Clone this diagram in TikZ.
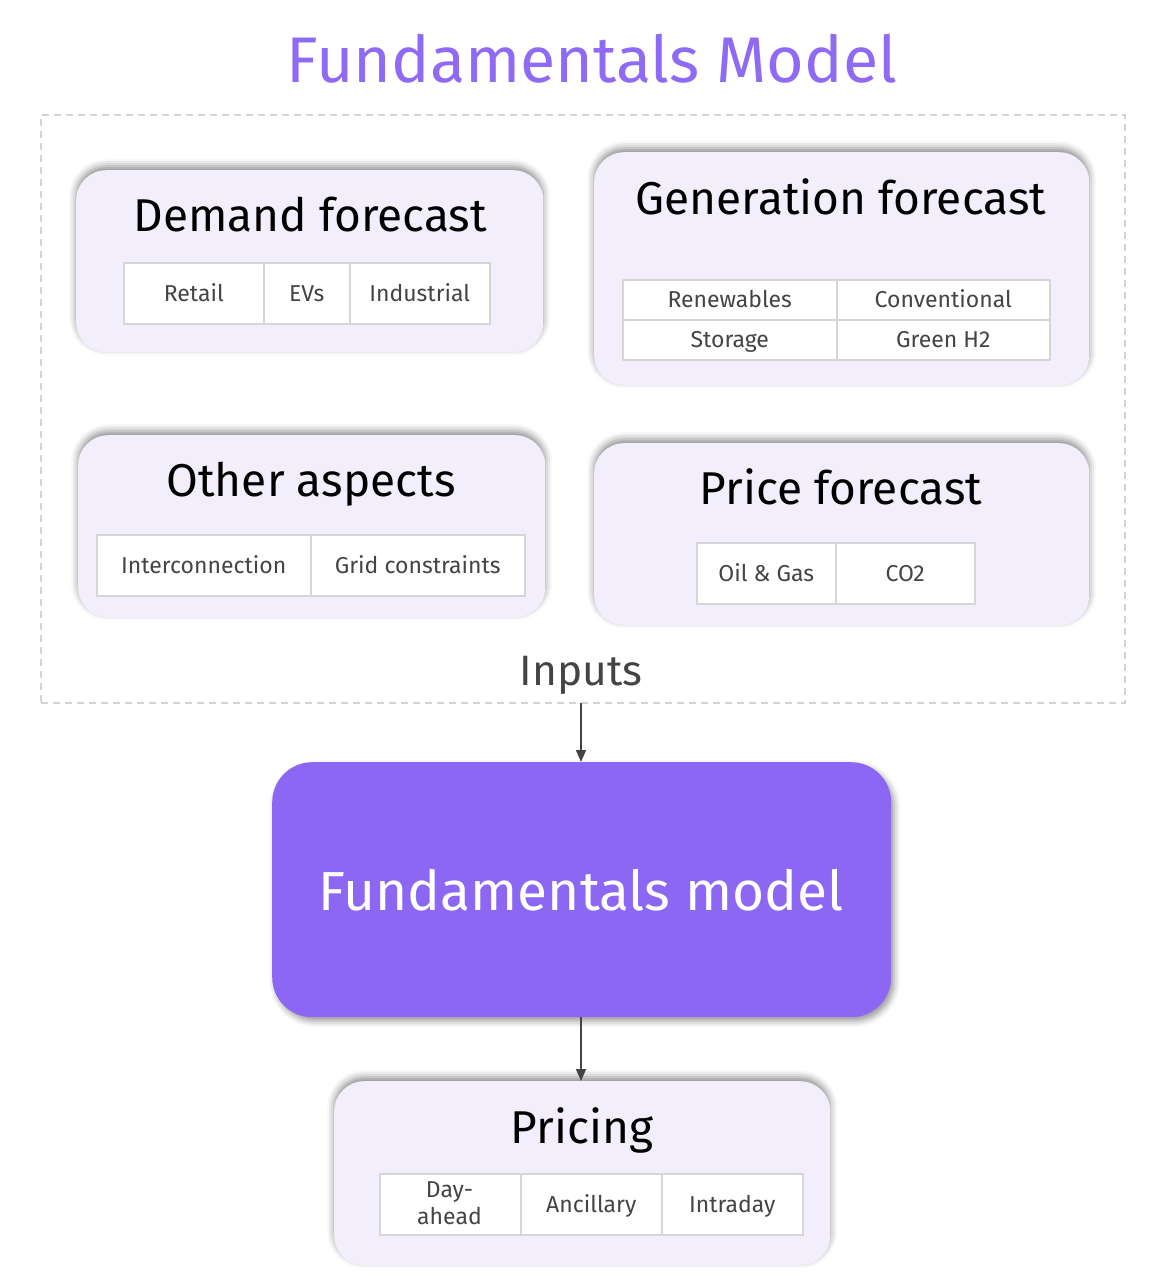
\documentclass[tikz,border=0pt]{standalone}
\usepackage{fontspec}
\setmainfont{Fira Sans}
\usetikzlibrary{shadows.blur,arrows.meta}
\definecolor{ttl}{HTML}{8F6AF5}
\definecolor{bigp}{HTML}{8B67F3}
\definecolor{lav}{HTML}{F3EEFC}
\definecolor{cellb}{HTML}{D6D6D6}
\definecolor{txtg}{HTML}{444444}
\definecolor{dashc}{HTML}{D4D4D4}
\begin{document}
\begin{tikzpicture}[x=1pt,y=-1pt,
  lavbox/.style={fill=lav, rounded corners=30pt, anchor=north west, inner sep=0pt,
     blur shadow={shadow xshift=0pt, shadow yshift=4pt, shadow blur radius=7pt, shadow opacity=45}},
  bigbox/.style={fill=bigp, rounded corners=40pt, anchor=north west, inner sep=0pt,
     blur shadow={shadow xshift=3pt, shadow yshift=-4pt, shadow blur radius=6pt, shadow opacity=40}},
  cell/.style={draw=cellb, line width=1.5pt, fill=white, anchor=north west, inner sep=0pt},
  celltext/.style={anchor=base, inner sep=0pt, text=txtg, font=\fontsize{23}{27}\selectfont, align=center},
  boxtitle/.style={anchor=base, font=\fontsize{46}{50}\selectfont, text=black, inner sep=0pt},
  arr/.style={draw=txtg, line width=1.5pt, -{Triangle[length=12pt,width=10pt]}}
]
\useasboundingbox (0,0) rectangle (1162,1282);
\node[anchor=base, text=ttl, font=\fontsize{64.5}{70}\selectfont, inner sep=0pt] (title) at (592,82) {Fundamentals Model};
\node[draw=dashc, line width=1.5pt, dash pattern=on 7pt off 5pt, anchor=north west, minimum width=1084pt, minimum height=588pt, inner sep=0pt] (inbox) at (40,114) {};

% Demand forecast
\node[lavbox, minimum width=467pt, minimum height=182pt] (dem) at (76,170) {};
\node[boxtitle] (demt) at (310,231) {Demand forecast};
\node[cell, minimum width=140pt, minimum height=61pt] (c1) at (123,262) {};
\node[cell, minimum width=86pt, minimum height=61pt] (c2) at (263,262) {};
\node[cell, minimum width=140pt, minimum height=61pt] (c3) at (349,262) {};
\node[celltext] (c1t) at ([yshift=-8pt]c1.center) {Retail};
\node[celltext] (c2t) at ([yshift=-8pt]c2.center) {EVs};
\node[celltext] (c3t) at ([yshift=-8pt]c3.center) {Industrial};

% Generation forecast
\node[lavbox, minimum width=495pt, minimum height=233pt] (gen) at (594,152) {};
\node[boxtitle] (gent) at (841,214) {Generation forecast};
\node[cell, minimum width=214pt, minimum height=40pt] (g1) at (622,279) {};
\node[cell, minimum width=213pt, minimum height=40pt] (g2) at (836,279) {};
\node[cell, minimum width=214pt, minimum height=40pt] (g3) at (622,319) {};
\node[cell, minimum width=213pt, minimum height=40pt] (g4) at (836,319) {};
\node[celltext] (g1t) at ([yshift=-8pt]g1.center) {Renewables};
\node[celltext] (g2t) at ([yshift=-8pt]g2.center) {Conventional};
\node[celltext] (g3t) at ([yshift=-8pt]g3.center) {Storage};
\node[celltext] (g4t) at ([yshift=-8pt]g4.center) {Green H2};

% Other aspects
\node[lavbox, minimum width=467pt, minimum height=182pt] (oth) at (78,435) {};
\node[boxtitle] (otht) at (311,496) {Other aspects};
\node[cell, minimum width=214pt, minimum height=61pt] (o1) at (96,534) {};
\node[cell, minimum width=214pt, minimum height=61pt] (o2) at (310,534) {};
\node[celltext] (o1t) at ([yshift=-8pt]o1.center) {Interconnection};
\node[celltext] (o2t) at ([yshift=-8pt]o2.center) {Grid constraints};

% Price forecast
\node[lavbox, minimum width=495pt, minimum height=182pt] (pri) at (594,443) {};
\node[boxtitle] (prit) at (841,504) {Price forecast};
\node[cell, minimum width=139pt, minimum height=61pt] (p1) at (696,542) {};
\node[cell, minimum width=139pt, minimum height=61pt] (p2) at (835,542) {};
\node[celltext] (p1t) at ([yshift=-8pt]p1.center) {Oil \& Gas};
\node[celltext] (p2t) at ([yshift=-8pt]p2.center) {CO2};

% Inputs
\node[anchor=base, text=txtg, font=\fontsize{42.5}{46}\selectfont, inner sep=0pt] (inp) at (581,685) {Inputs};
\coordinate (inbot) at (581,703);

% Fundamentals model
\node[bigbox, minimum width=619pt, minimum height=255pt] (fm) at (272,762) {};
\node[anchor=base, text=white, font=\fontsize{55}{60}\selectfont, inner sep=0pt] (fmt) at (581,910) {Fundamentals model};

% Pricing
\node[lavbox, minimum width=496pt, minimum height=184pt] (prc) at (334,1081) {};
\node[boxtitle] (prct) at (582,1143) {Pricing};
\node[cell, minimum width=141pt, minimum height=61pt] (r1) at (379,1173) {};
\node[cell, minimum width=141pt, minimum height=61pt] (r2) at (520,1173) {};
\node[cell, minimum width=141pt, minimum height=61pt] (r3) at (661,1173) {};
\node[celltext, anchor=north] (r1t) at (449.5,1181) {Day-\\ahead};
\node[celltext] (r2t) at ([yshift=-8pt]r2.center) {Ancillary};
\node[celltext] (r3t) at ([yshift=-8pt]r3.center) {Intraday};

% Arrows
\draw[arr] (inbot) -- (fm.north -| inbot);
\draw[arr] (fm.south -| inbot) -- (prc.north -| inbot);
\end{tikzpicture}
\end{document}
